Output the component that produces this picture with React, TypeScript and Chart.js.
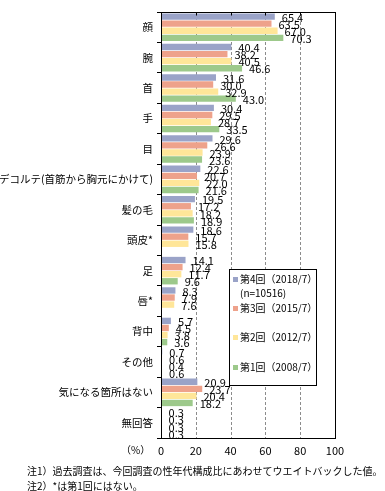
import React, { useEffect, useRef } from "react";
import { Chart, registerables } from "chart.js";

Chart.register(...registerables);

const categories = [
  "顔",
  "腕",
  "首",
  "手",
  "目",
  "デコルテ(首筋から胸元にかけて)",
  "髪の毛",
  "頭皮*",
  "足",
  "唇*",
  "背中",
  "その他",
  "気になる箇所はない",
  "無回答",
];
const series4 = [65.4, 40.4, 31.6, 30.4, 29.6, 22.6, 19.5, 18.6, 14.1, 8.3, 5.7, 0.7, 20.9, 0.3];
const series3 = [63.5, 38.2, 30.0, 29.5, 26.6, 20.7, 17.2, 15.7, 12.4, 7.9, 4.5, 0.6, 23.7, 0.3];
const series2 = [67.0, 40.5, 32.9, 28.7, 23.9, 22.0, 18.2, 15.8, 11.7, 7.6, 3.8, 0.4, 20.4, 0.3];
const series1 = [70.3, 46.6, 43.0, 33.5, 23.6, 21.6, 18.9, null, 9.6, null, 3.6, 0.6, 18.2, 0.3];
const seriesNames = ["第4回（2018/7）", "第3回（2015/7）", "第2回（2012/7）", "第1回（2008/7）"];
const seriesColors = ["#9aa3c8", "#eea28b", "#ffe699", "#9dc98b"];
const gridValues = [20, 40, 60, 80];
const xMin = 0;
const xMax = 100;
const xStep = 20;

const FONT = '"Noto Sans CJK JP", "Noto Sans", sans-serif';

const decorPlugin = {
  id: "decor",
  beforeDatasetsDraw(chart: any) {
    const { ctx, chartArea, scales } = chart;
    ctx.save();
    ctx.strokeStyle = "#8c8c8c";
    ctx.lineWidth = 1;
    ctx.setLineDash([3, 2]);
    gridValues.forEach((v) => {
      const x = Math.round(scales.x.getPixelForValue(v)) + 0.5;
      ctx.beginPath();
      ctx.moveTo(x, chartArea.top);
      ctx.lineTo(x, chartArea.bottom);
      ctx.stroke();
    });
    ctx.restore();
  },
  afterDatasetsDraw(chart: any) {
    const { ctx, chartArea, scales } = chart;
    ctx.save();
    ctx.fillStyle = "#000";
    ctx.font = `11px ${FONT}`;
    ctx.textBaseline = "middle";
    ctx.textAlign = "left";
    chart.data.datasets.forEach((ds: any, di: number) => {
      const meta = chart.getDatasetMeta(di);
      meta.data.forEach((bar: any, i: number) => {
        const v = ds.data[i];
        if (v === null || v === undefined) return;
        ctx.fillText(v.toFixed(1), bar.x + 7, bar.y + 1);
      });
    });
    ctx.strokeStyle = "#000";
    ctx.lineWidth = 1;
    ctx.setLineDash([]);
    const l = Math.round(chartArea.left) + 0.5;
    const r = Math.round(chartArea.right) + 0.5;
    const t = Math.round(chartArea.top) + 0.5;
    const b = Math.round(chartArea.bottom) + 0.5;
    ctx.strokeRect(l, t, r - l, b - t);
    gridValues.forEach((v) => {
      const x = Math.round(scales.x.getPixelForValue(v)) + 0.5;
      ctx.beginPath();
      ctx.moveTo(x, t);
      ctx.lineTo(x, t + 3);
      ctx.stroke();
    });
    ctx.restore();
  },
};

export default function App() {
  const canvasRef = useRef<HTMLCanvasElement | null>(null);

  useEffect(() => {
    document.body.style.margin = "0";
    const canvas = canvasRef.current;
    if (!canvas) return;
    const chart = new Chart(canvas, {
      type: "bar",
      data: {
        labels: categories,
        datasets: [series4, series3, series2, series1].map((d, i) => ({
          label: seriesNames[i],
          data: d,
          backgroundColor: seriesColors[i],
          borderWidth: 0,
          categoryPercentage: 0.93,
          barPercentage: 0.9,
        })),
      },
      options: {
        indexAxis: "y",
        animation: false,
        responsive: false,
        maintainAspectRatio: false,
        layout: { padding: { top: 12, right: 50, left: 0, bottom: 0 } },
        plugins: {
          legend: { display: false },
          tooltip: { enabled: false },
        },
        scales: {
          x: {
            type: "linear",
            min: xMin,
            max: xMax,
            ticks: {
              stepSize: xStep,
              color: "#000",
              font: { family: FONT, size: 11 },
              padding: 6,
            },
            grid: { display: false, drawTicks: false },
            border: { display: false },
            afterFit: (scale: any) => {
              scale.height = 53;
            },
          },
          y: {
            type: "category",
            ticks: {
              color: "#000",
              font: { family: FONT, size: 10.5 },
              padding: 4,
              autoSkip: false,
            },
            grid: {
              drawOnChartArea: false,
              drawTicks: true,
              tickLength: 4,
              color: "#000",
              offset: true,
            },
            border: { display: true, color: "#000" },
            afterFit: (scale: any) => {
              scale.width = 161;
            },
          },
        },
      } as any,
      plugins: [decorPlugin],
    });
    return () => chart.destroy();
  }, []);

  const legendRows = [
    { text: seriesNames[0], color: seriesColors[0], y: 9 },
    { text: "(n=10516)", color: null, y: 23 },
    { text: seriesNames[1], color: seriesColors[1], y: 38 },
    { text: seriesNames[2], color: seriesColors[2], y: 67 },
    { text: seriesNames[3], color: seriesColors[3], y: 97 },
  ];

  return (
    <div style={{ position: "absolute", left: 0, top: 0, width: 385, height: 491, background: "#fff", fontFamily: FONT }}>
      <canvas ref={canvasRef} width={385} height={491} style={{ display: "block", width: 385, height: 491 }} />
      <div
        style={{
          position: "absolute",
          left: 229,
          top: 269,
          width: 86,
          height: 115,
          border: "1px solid #000",
          background: "#fff",
        }}
      >
        {legendRows.map((r, i) => (
          <div
            key={i}
            style={{
              position: "absolute",
              left: 3,
              top: r.y - 7,
              height: 14,
              lineHeight: "14px",
              fontSize: 10,
              whiteSpace: "nowrap",
              display: "flex",
              alignItems: "center",
              color: "#000",
            }}
          >
            <span
              style={{
                display: "inline-block",
                width: 5,
                height: 5,
                marginRight: 2,
                background: r.color || "transparent",
              }}
            />
            <span>{r.text}</span>
          </div>
        ))}
      </div>
      <div style={{ position: "absolute", left: 121, top: 443, fontSize: 10, lineHeight: "14px", color: "#000" }}>（%）</div>
      <div style={{ position: "absolute", left: 27, top: 463, fontSize: 10, lineHeight: "15px", color: "#000", whiteSpace: "nowrap" }}>
        <div>注1）過去調査は、今回調査の性年代構成比にあわせてウエイトバックした値。</div>
        <div>注2）*は第1回にはない。</div>
      </div>
    </div>
  );
}
